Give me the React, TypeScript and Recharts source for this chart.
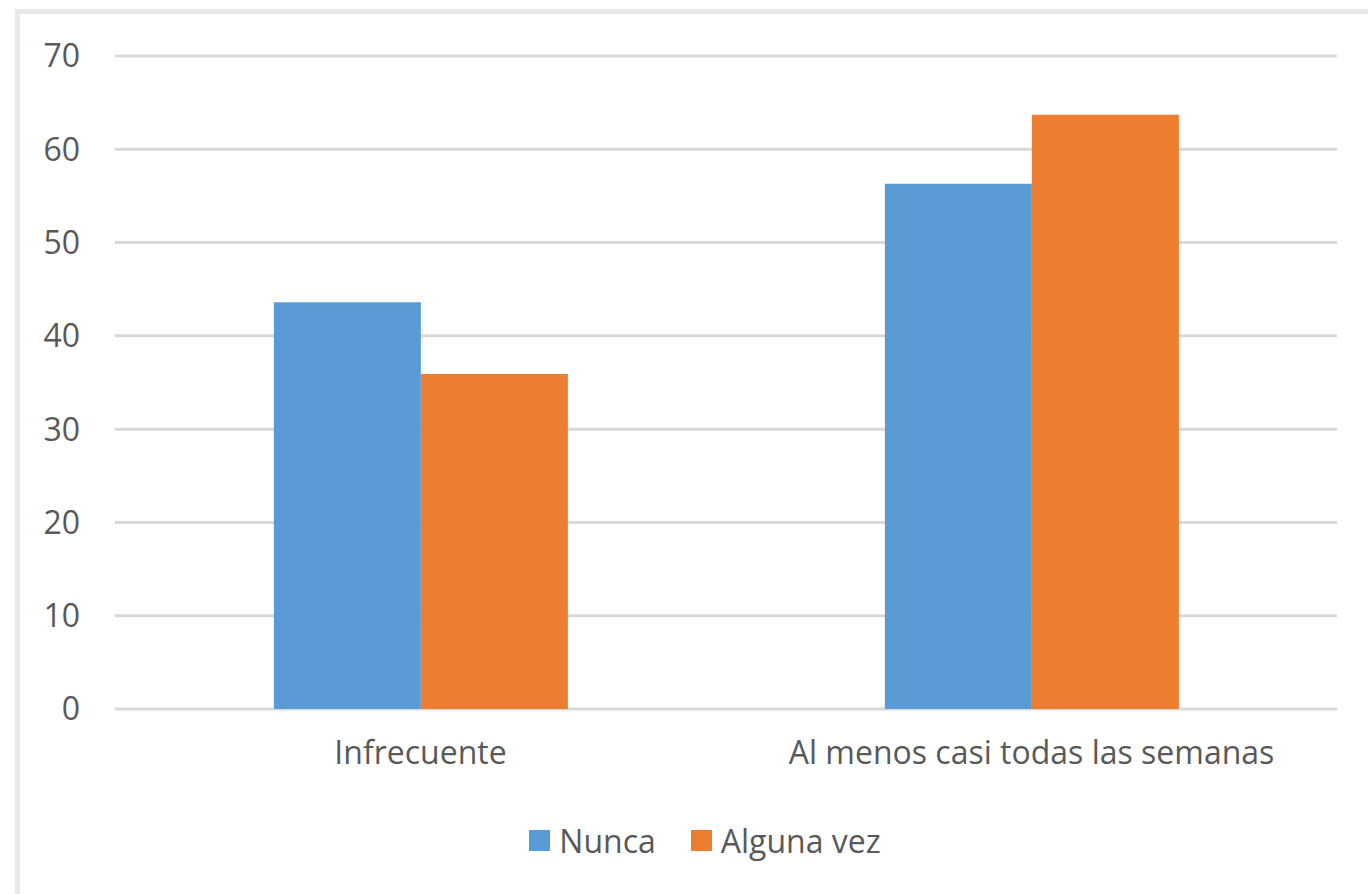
import { BarChart, Bar, XAxis, YAxis, CartesianGrid, Legend } from 'recharts';

const categories = ['Infrecuente', 'Al menos casi todas las semanas'];
const nunca = [43.6, 56.3];
const algunaVez = [35.9, 63.7];
const yTicks = [0, 10, 20, 30, 40, 50, 60, 70];

const seriesNames = { nunca: 'Nunca', algunaVez: 'Alguna vez' };
const colors = { nunca: '#5B9BD5', algunaVez: '#ED7D31' };

const data = categories.map((name, i) => ({ name, nunca: nunca[i], algunaVez: algunaVez[i] }));

const font = '"Open Sans", "Noto Sans", sans-serif';
const textColor = '#595959';

function LegendContent() {
  const items = [
    { key: 'nunca', label: seriesNames.nunca, color: colors.nunca },
    { key: 'algunaVez', label: seriesNames.algunaVez, color: colors.algunaVez },
  ];
  return (
    <div style={{ display: 'flex', justifyContent: 'center', alignItems: 'center', fontFamily: font, fontSize: 32, color: textColor, height: 44, paddingLeft: 42 }}>
      {items.map((it, i) => (
        <div key={it.key} style={{ display: 'flex', alignItems: 'center', marginLeft: i === 0 ? 0 : 35 }}>
          <span style={{ display: 'inline-block', width: 21, height: 21, background: it.color, marginRight: 9 }} />
          <span>{it.label}</span>
        </div>
      ))}
    </div>
  );
}

export default function App() {
  return (
    <div style={{ position: 'fixed', top: 0, left: 0, width: 1368, height: 894, overflow: 'hidden', background: '#fff' }}>
      <div
        style={{
          position: 'absolute',
          left: 15,
          top: 9,
          width: 1420,
          height: 960,
          border: '5px solid #e8e8e8',
        }}
      />
      <div style={{ position: 'absolute', left: 0, top: 0 }}>
        <BarChart
          width={1368}
          height={894}
          data={data}
          margin={{ top: 56, right: 31, bottom: 0, left: 0 }}
          barGap={0}
          barCategoryGap="26%"
        >
          <CartesianGrid vertical={false} stroke="#d9d9d9" strokeWidth={3} />
          <XAxis
            dataKey="name"
            axisLine={false}
            tickLine={false}
            tickSize={0}
            tickMargin={32}
            height={141}
            tick={{ fill: textColor, fontSize: 32, fontFamily: font }}
          />
          <YAxis
            domain={[0, 70]}
            ticks={yTicks}
            axisLine={false}
            tickLine={false}
            tickSize={0}
            tickMargin={35}
            width={115}
            tick={{ fill: textColor, fontSize: 32, fontFamily: font }}
          />
          <Legend
            content={<LegendContent />}
            wrapperStyle={{ top: 818, left: 0, width: 1368, bottom: 'auto' }}
          />
          <Bar dataKey="nunca" name={seriesNames.nunca} fill={colors.nunca} isAnimationActive={false} />
          <Bar dataKey="algunaVez" name={seriesNames.algunaVez} fill={colors.algunaVez} isAnimationActive={false} />
        </BarChart>
      </div>
    </div>
  );
}
